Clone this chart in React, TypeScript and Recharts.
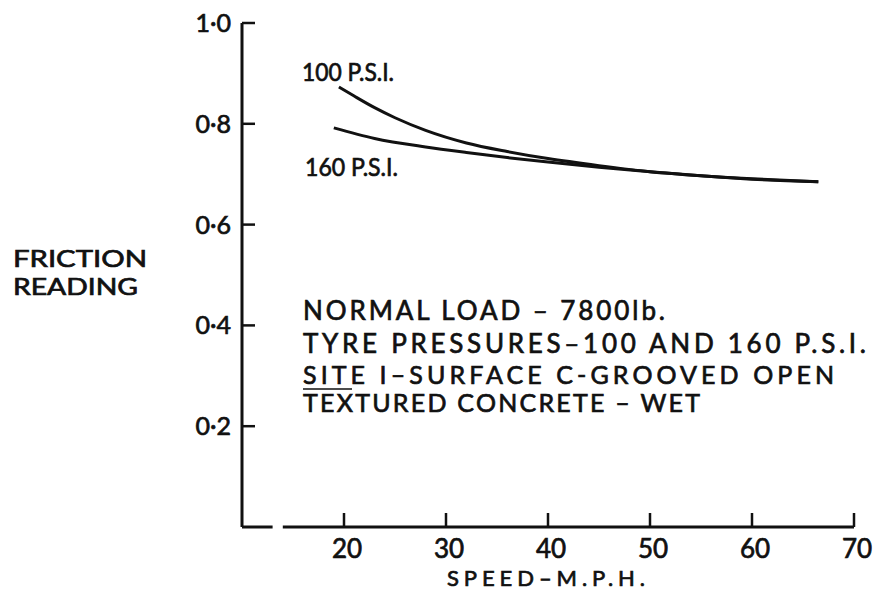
import React from 'react';
import { LineChart, Line, XAxis, YAxis, ReferenceLine } from 'recharts';

// friction reading vs speed
const speed100 = [19.5, 21, 23, 25, 28, 32, 36, 40, 45, 50, 55, 60, 66.5];
const friction100 = [0.873, 0.855, 0.832, 0.812, 0.787, 0.762, 0.745, 0.731, 0.717, 0.705, 0.697, 0.691, 0.685];
const speed160 = [19, 23, 28, 32, 36, 40, 45, 50, 55, 60, 66.5];
const friction160 = [0.792, 0.771, 0.754, 0.743, 0.733, 0.724, 0.714, 0.705, 0.697, 0.69, 0.685];

const xTicks = [20, 30, 40, 50, 60, 70];
const yTicks = [0.2, 0.4, 0.6, 0.8, 1.0];
const yTickLabels = ['0·2', '0·4', '0·6', '0·8', '1·0'];

const notes = [
  'NORMAL LOAD – 7800lb.',
  'TYRE PRESSURES–100 AND 160 P.S.I.',
  'SITE I–SURFACE C-GROOVED OPEN',
  'TEXTURED CONCRETE – WET',
];

const data100 = speed100.map((s, i) => ({ speed: s, friction: friction100[i] }));
const data160 = speed160.map((s, i) => ({ speed: s, friction: friction160[i] }));

const FONT = "Lato, 'DejaVu Sans', sans-serif";
const INK = '#111';
// thin outline to get a medium weight out of the regular face
const heavy = { stroke: INK, strokeWidth: 0.7 };

const YTick = (props: any) => {
  const { x, y, payload } = props;
  const idx = yTicks.findIndex(t => Math.abs(t - payload.value) < 1e-6);
  return (
    <g>
      <line x1={x} x2={x + 13} y1={y} y2={y} stroke={INK} strokeWidth={2.5} />
      <text x={x - 11} y={y + 9} textAnchor="end" fontSize={25} fontFamily={FONT} fill={INK} {...heavy}>
        {yTickLabels[idx]}
      </text>
    </g>
  );
};

const XTick = (props: any) => {
  const { x, y, payload } = props;
  return (
    <g>
      <line x1={x} x2={x} y1={y} y2={y - 14} stroke={INK} strokeWidth={2.5} />
      <text x={x + 3} y={y + 31} textAnchor="middle" fontSize={26} fontFamily={FONT} fill={INK} {...heavy}>
        {payload.value}
      </text>
    </g>
  );
};

export default function App() {
  return (
    <div style={{ position: 'absolute', left: 0, top: 0, width: 880, height: 593, background: '#fff' }}>
      <LineChart
        width={880}
        height={593}
        margin={{ top: 23, right: 26, bottom: 26, left: 182 }}
      >
        <XAxis
          type="number"
          dataKey="speed"
          domain={[10, 70]}
          ticks={xTicks}
          height={40}
          axisLine={false}
          tickLine={false}
          tickSize={0}
          tickMargin={0}
          tick={<XTick />}
        />
        <YAxis
          type="number"
          domain={[0, 1]}
          ticks={yTicks}
          width={60}
          axisLine={{ stroke: INK, strokeWidth: 3 }}
          tickLine={false}
          tickSize={0}
          tickMargin={0}
          tick={<YTick />}
        />
        <ReferenceLine segment={[{ x: 10, y: 0 }, { x: 13, y: 0 }]} stroke={INK} strokeWidth={3} />
        <ReferenceLine segment={[{ x: 14, y: 0 }, { x: 70, y: 0 }]} stroke={INK} strokeWidth={3} />
        <Line
          data={data100}
          dataKey="friction"
          type="monotone"
          stroke={INK}
          strokeWidth={3}
          dot={false}
          isAnimationActive={false}
        />
        <Line
          data={data160}
          dataKey="friction"
          type="monotone"
          stroke={INK}
          strokeWidth={3}
          dot={false}
          isAnimationActive={false}
        />
      </LineChart>
      <svg
        width={880}
        height={593}
        style={{ position: 'absolute', left: 0, top: 0, pointerEvents: 'none' }}
        fontFamily={FONT}
        fill={INK}
      >
        <g {...heavy}>
          <text x={302} y={81} fontSize={25} textLength={92} lengthAdjust="spacingAndGlyphs">100 P.S.I.</text>
          <text x={305} y={176} fontSize={25} textLength={93} lengthAdjust="spacingAndGlyphs">160 P.S.I.</text>

          <text x={13} y={267} fontSize={23} textLength={134} lengthAdjust="spacingAndGlyphs">FRICTION</text>
          <text x={13} y={295} fontSize={23} textLength={125} lengthAdjust="spacingAndGlyphs">READING</text>

          <text x={303} y={320} fontSize={26} textLength={362} lengthAdjust="spacing">{notes[0]}</text>
          <text x={303} y={353} fontSize={26} textLength={563} lengthAdjust="spacing">{notes[1]}</text>
          <text x={303} y={384} fontSize={25} textLength={531} lengthAdjust="spacing">{notes[2]}</text>
          <text x={303} y={412} fontSize={25} textLength={397} lengthAdjust="spacing">{notes[3]}</text>

          <text x={447} y={586} fontSize={22} textLength={198} lengthAdjust="spacing">SPEED–M.P.H.</text>
        </g>
        <line x1={303} x2={352} y1={389} y2={389} stroke={INK} strokeWidth={1.5} />
      </svg>
    </div>
  );
}
